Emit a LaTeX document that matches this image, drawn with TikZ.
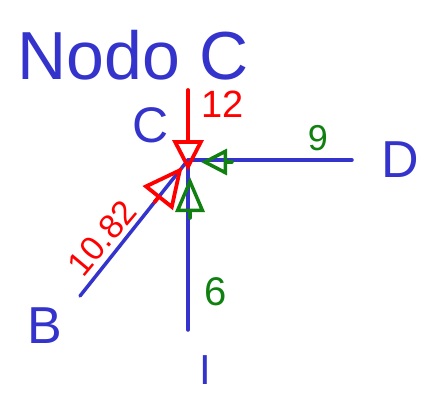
\documentclass[tikz,border=0pt]{standalone}
\usepackage{fontspec}
\setmainfont{Liberation Sans}
\usetikzlibrary{arrows.meta,calc}
\definecolor{penblue}{RGB}{52,52,204}
\definecolor{penred}{RGB}{255,0,0}
\definecolor{pengreen}{RGB}{16,128,16}
\begin{document}
\begin{tikzpicture}[x=1pt,y=-1pt,
    member/.style={penblue, line width=3.5pt, line cap=round},
    pull/.style={penred, line width=3.8pt, line cap=round, line join=round},
    push/.style={pengreen, line width=3.5pt, line cap=round, line join=round},
    hand/.style={inner sep=0pt, font=\fontsize{#1}{#1}\selectfont}]
            \useasboundingbox (0,0) rectangle (425,392);
            % joint and bar ends
            \coordinate (c) at (188,160);
            \coordinate (dend) at (352,160);
            \coordinate (iend) at (188,330);
            \coordinate (bend) at (80,296);
            \coordinate (top) at (188,90);
            \coordinate (ctip) at (188,171);
            \draw[member] (c) -- (dend);
            \draw[member] (c) -- (iend);
            \draw[member] (c) -- (bend);
            % forces on the joint
            \draw[pull, -{Triangle[open, length=31pt, width=31pt]}] (top) -- (ctip);
            \draw[pull, -{Triangle[open, length=40pt, width=38pt]}] ($(c)!0.31!(bend)$) -- ($(c)!0.05!(bend)$);
            \draw[push, -{Triangle[open, length=26pt, width=26pt]}] (232,162) -- (201,162);
            \draw[push, -{Triangle[open, length=35pt, width=29pt]}] (190,218) -- (190,177);
            % labels
            \node (title) at (133,55) [penblue, hand=68] {Nodo C};
            \node (lblc) at (151,125) [penblue, hand=50] {C};
            \node (lbltop) at (223,104) [penred, hand=38] {12};
            \node (lbld) at (400,160) [penblue, hand=52] {D};
            \node (lbldc) at (318,138) [pengreen, hand=36] {9};
            \node (lblbc) at (102,238) [penred, hand=34, rotate=50] {10.82};
            \node (lblb) at (45,326) [penblue, hand=52] {B};
            \node (lblic) at (216,292) [pengreen, hand=40] {6};
            \node (lbli) at (205,370) [penblue, hand=42] {I};
        \end{tikzpicture}
\end{document}
